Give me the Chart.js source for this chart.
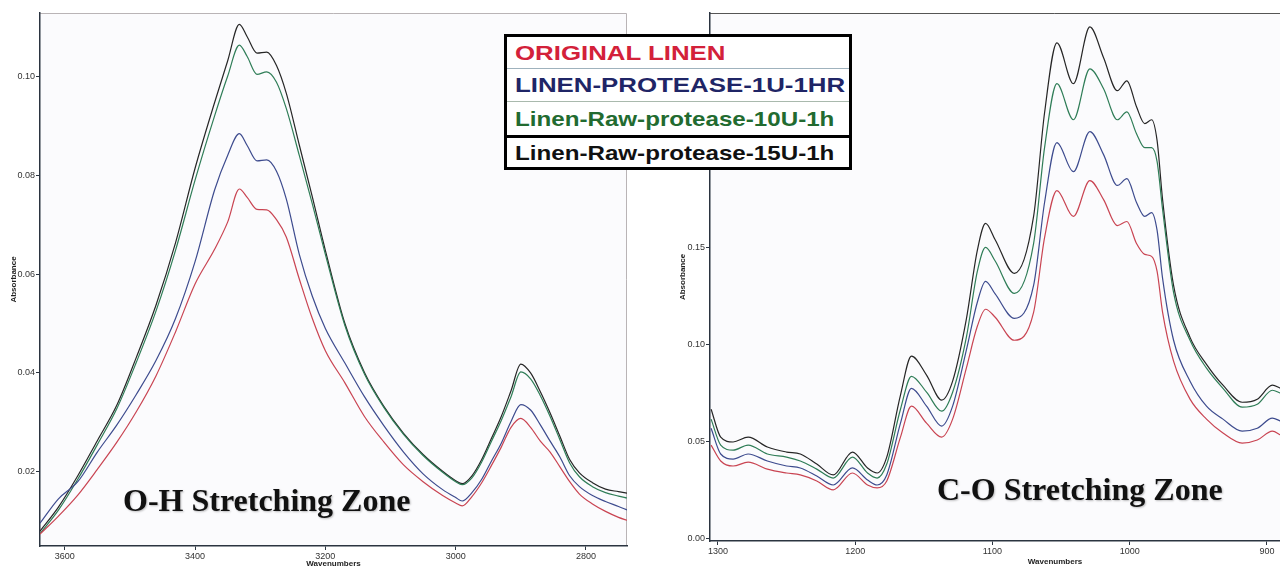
<!DOCTYPE html>
<html>
<head>
<meta charset="utf-8">
<script src="https://cdn.jsdelivr.net/npm/chart.js@4.4.0/dist/chart.umd.min.js"></script>
<style>
  html, body { margin: 0; padding: 0; background: #fff; overflow: hidden; }
  #wrap { position: relative; width: 1280px; height: 569px; overflow: hidden; }
  canvas { position: absolute; top: 0; }
  #ohChart { left: 0; }
  #coChart { left: 640px; }
  #legend {
    position: absolute; left: 504px; top: 34px; width: 342px;
    border: 3px solid #000; background: #fff;
    font: bold 21px 'Liberation Sans', Arial, sans-serif;
  }
  #legend div { padding-left: 8px; white-space: nowrap; overflow: hidden; }
  #legend span { display: inline-block; transform-origin: left center; }
  #legend .r0 { height: 31px; line-height: 31px; }
  #legend .r1 { height: 32px; line-height: 32px; border-top: 1px solid #9fb2bd; }
  #legend .r2 { height: 33px; line-height: 33px; border-top: 1px solid #a9b9ad; }
  #legend .r3 { height: 29px; line-height: 29px; border-top: 3px solid #000; }
  #legend .r0 span, #legend .r1 span { transform: scaleX(1.23); }
  #legend .r2 span, #legend .r3 span { transform: scaleX(1.15); }
</style>
</head>
<body>
<div id="wrap">
  <canvas id="ohChart" width="640" height="569"></canvas>
  <canvas id="coChart" width="760" height="569"></canvas>
  <div id="legend"></div>
</div>
<script>
// ---- data ----
const seriesLabels = ['ORIGINAL LINEN', 'LINEN-PROTEASE-1U-1HR', 'Linen-Raw-protease-10U-1h', 'Linen-Raw-protease-15U-1h'];
const lineColors = ['#c94452', '#3d4b8e', '#2f7d57', '#262626'];
const textColors = ['#d3213a', '#1f2566', '#226b30', '#111111'];

// O-H stretching zone (left)
const ohWavenumbers = [3638, 3610, 3580, 3550, 3520, 3490, 3460, 3430, 3400, 3370, 3350, 3332, 3320, 3305, 3290, 3275, 3260, 3240, 3220, 3200,
  3170, 3140, 3110, 3080, 3050, 3020, 3000, 2990, 2975, 2960, 2945, 2930, 2915, 2900, 2885, 2870, 2855, 2840, 2825, 2810, 2790, 2770, 2750, 2737];
const ohOriginal = [0.0074, 0.0110, 0.0153, 0.0205, 0.0260, 0.0322, 0.0394, 0.0483, 0.0580, 0.0650, 0.0705, 0.0772, 0.0755, 0.0731, 0.0730, 0.0710, 0.0675, 0.0590, 0.0510, 0.0445,
  0.0380, 0.0312, 0.0260, 0.0214, 0.0180, 0.0152, 0.0137, 0.0131, 0.0150, 0.0178, 0.0213, 0.0250, 0.0290, 0.0308, 0.0290, 0.0262, 0.0240, 0.0210, 0.0180, 0.0155, 0.0135, 0.0120, 0.0108, 0.0102];
const ohProtease1U = [0.0096, 0.0145, 0.0180, 0.0240, 0.0295, 0.0357, 0.0425, 0.0510, 0.0625, 0.0770, 0.0840, 0.0884, 0.0860, 0.0829, 0.0831, 0.0808, 0.0752, 0.0640, 0.0555, 0.0490,
  0.0420, 0.0352, 0.0293, 0.0240, 0.0196, 0.0164, 0.0148, 0.0141, 0.0158, 0.0185, 0.0222, 0.0258, 0.0302, 0.0336, 0.0325, 0.0295, 0.0262, 0.0230, 0.0192, 0.0170, 0.0152, 0.0140, 0.0130, 0.0123];
const ohRaw10U = [0.0075, 0.0122, 0.0185, 0.0255, 0.0328, 0.0422, 0.0525, 0.0648, 0.0790, 0.0920, 0.1000, 0.1063, 0.1040, 0.1004, 0.1009, 0.0988, 0.0935, 0.0840, 0.0742, 0.0640,
  0.0496, 0.0398, 0.0330, 0.0276, 0.0233, 0.0199, 0.0180, 0.0174, 0.0188, 0.0220, 0.0262, 0.0304, 0.0352, 0.0402, 0.0388, 0.0354, 0.0312, 0.0265, 0.0218, 0.0190, 0.0170, 0.0158, 0.0151, 0.0147];
const ohRaw15U = [0.0080, 0.0128, 0.0192, 0.0263, 0.0335, 0.0432, 0.0537, 0.0663, 0.0814, 0.0947, 0.1031, 0.1105, 0.1080, 0.1047, 0.1049, 0.1022, 0.0966, 0.0861, 0.0756, 0.0648,
  0.0500, 0.0401, 0.0332, 0.0278, 0.0235, 0.0201, 0.0182, 0.0176, 0.0192, 0.0225, 0.0268, 0.0312, 0.0364, 0.0418, 0.0400, 0.0362, 0.0319, 0.0272, 0.0225, 0.0198, 0.0178, 0.0165, 0.0160, 0.0157];
const ohXTicks = [3600, 3400, 3200, 3000, 2800];
const ohYTicks = [0.02, 0.04, 0.06, 0.08, 0.10];

// C-O stretching zone (right)
const coWavenumbers = [1305, 1298, 1289, 1278, 1264, 1250, 1240, 1228, 1216, 1202, 1191, 1184, 1177, 1167, 1159, 1148, 1137, 1129, 1119, 1111, 1105, 1098,
  1084, 1070, 1062, 1053, 1041, 1029, 1019, 1009, 1002, 995, 989, 984, 980, 976, 968, 956, 944, 932, 918, 907, 896, 890];
const coOriginal = [0.0480, 0.0398, 0.0372, 0.0392, 0.0356, 0.0336, 0.0326, 0.0295, 0.0249, 0.0336, 0.0274, 0.0259, 0.0295, 0.0521, 0.0681, 0.0593, 0.0521, 0.0614, 0.0877, 0.1093, 0.1181, 0.1140,
  0.1021, 0.1165, 0.1551, 0.1793, 0.1660, 0.1845, 0.1747, 0.1613, 0.1634, 0.1520, 0.1464, 0.1454, 0.1376, 0.1165, 0.0913, 0.0717, 0.0614, 0.0542, 0.0490, 0.0506, 0.0552, 0.0532];
const coProtease1U = [0.0567, 0.0434, 0.0408, 0.0434, 0.0398, 0.0372, 0.0362, 0.0320, 0.0274, 0.0362, 0.0300, 0.0274, 0.0326, 0.0593, 0.0773, 0.0681, 0.0578, 0.0681, 0.0970, 0.1217, 0.1325, 0.1260,
  0.1134, 0.1304, 0.1732, 0.2041, 0.1891, 0.2098, 0.1979, 0.1820, 0.1855, 0.1732, 0.1660, 0.1680, 0.1588, 0.1340, 0.1021, 0.0810, 0.0681, 0.0614, 0.0552, 0.0567, 0.0619, 0.0604];
const coRaw10U = [0.0614, 0.0480, 0.0454, 0.0480, 0.0434, 0.0418, 0.0398, 0.0356, 0.0310, 0.0418, 0.0336, 0.0310, 0.0382, 0.0665, 0.0835, 0.0753, 0.0655, 0.0753, 0.1036, 0.1376, 0.1500, 0.1430,
  0.1263, 0.1520, 0.2015, 0.2345, 0.2159, 0.2422, 0.2319, 0.2159, 0.2200, 0.2087, 0.2015, 0.2015, 0.1943, 0.1696, 0.1268, 0.1021, 0.0877, 0.0773, 0.0676, 0.0691, 0.0763, 0.0748];
const coRaw15U = [0.0665, 0.0521, 0.0496, 0.0521, 0.0470, 0.0444, 0.0434, 0.0382, 0.0326, 0.0444, 0.0362, 0.0336, 0.0418, 0.0738, 0.0939, 0.0841, 0.0712, 0.0810, 0.1130, 0.1485, 0.1624, 0.1540,
  0.1366, 0.1660, 0.2195, 0.2556, 0.2345, 0.2638, 0.2479, 0.2309, 0.2360, 0.2226, 0.2139, 0.2159, 0.2051, 0.1747, 0.1304, 0.1036, 0.0897, 0.0789, 0.0701, 0.0717, 0.0789, 0.0773];
const coXTicks = [1300, 1200, 1100, 1000, 900];
const coYTicks = [0.00, 0.05, 0.10, 0.15];

// ---- legend (shared by both panels) ----
const legendEl = document.getElementById('legend');
seriesLabels.forEach((label, i) => {
  const row = document.createElement('div');
  row.className = 'r' + i;
  const span = document.createElement('span');
  span.textContent = label;
  span.style.color = textColors[i];
  row.appendChild(span);
  legendEl.appendChild(row);
});

// frame + zone caption
const framePlugin = {
  id: 'frame',
  beforeDraw(chart, args, o) {
    const { ctx, chartArea: a } = chart;
    ctx.save();
    ctx.fillStyle = '#fbfbfd';
    ctx.fillRect(a.left, a.top, a.right - a.left, a.bottom - a.top);
    ctx.strokeStyle = o.borderColor;
    ctx.lineWidth = 1;
    ctx.beginPath();
    ctx.moveTo(a.left, a.top + 0.5);
    ctx.lineTo(a.right - 0.5, a.top + 0.5);
    ctx.lineTo(a.right - 0.5, a.bottom);
    ctx.stroke();
    ctx.restore();
  },
  afterDraw(chart, args, o) {
    const { ctx, chartArea: a } = chart;
    ctx.save();
    ctx.font = 'bold 32px "Liberation Serif", "Times New Roman", serif';
    ctx.fillStyle = '#111';
    ctx.textBaseline = 'middle';
    ctx.shadowColor = 'rgba(0,0,0,0.25)';
    ctx.shadowBlur = 2;
    ctx.shadowOffsetX = 1;
    ctx.shadowOffsetY = 1;
    ctx.fillText(o.caption, a.left + o.captionDx, o.captionY);
    ctx.restore();
  }
};

const tickFont = { family: "'Liberation Sans Narrow', 'Liberation Sans', Arial, sans-serif", size: 9 };
const titleFont = { family: "'Liberation Sans Narrow', 'Liberation Sans', Arial, sans-serif", size: 8, weight: 'bold' };

function makeSpectrum(id, wavenumbers, series, cfg) {
  const datasets = series.map((values, i) => ({
    label: seriesLabels[i],
    data: wavenumbers.map((w, j) => ({ x: w, y: values[j] })),
    borderColor: lineColors[i],
    borderWidth: 1.2,
    pointRadius: 0,
    fill: false,
    cubicInterpolationMode: 'monotone'
  }));
  return new Chart(document.getElementById(id), {
    type: 'line',
    data: { datasets },
    plugins: [framePlugin],
    options: {
      responsive: false,
      animation: false,
      devicePixelRatio: 1,
      layout: { padding: cfg.padding },
      plugins: {
        legend: { display: false },
        tooltip: { enabled: false },
        frame: { borderColor: cfg.borderColor, caption: cfg.caption, captionDx: cfg.captionDx, captionY: cfg.captionY }
      },
      scales: {
        x: {
          type: 'linear',
          reverse: true,
          min: cfg.xMin,
          max: cfg.xMax,
          afterBuildTicks: s => { s.ticks = cfg.xTicks.map(v => ({ value: v })); },
          afterFit: s => { s.height = cfg.xAxisHeight; },
          ticks: { callback: v => String(v), font: tickFont, color: '#333', padding: 1, maxRotation: 0, autoSkip: false },
          grid: { drawOnChartArea: false, drawTicks: true, tickLength: 4, color: '#2b3440' },
          border: { display: true, color: '#2b3440', width: 1.5 },
          title: { display: true, text: 'Wavenumbers', font: titleFont, color: '#222', padding: { top: 0, bottom: cfg.xTitlePad } }
        },
        y: {
          min: cfg.yMin,
          max: cfg.yMax,
          afterBuildTicks: s => { s.ticks = cfg.yTicks.map(v => ({ value: v })); },
          afterFit: s => { s.width = cfg.yAxisWidth; },
          ticks: { callback: v => v.toFixed(2), font: tickFont, color: '#333', padding: 1 },
          grid: { drawOnChartArea: false, drawTicks: true, tickLength: 4, color: '#2b3440' },
          border: { display: true, color: '#2b3440', width: 1.5 },
          title: { display: true, text: 'Absorbance', font: titleFont, color: '#222', padding: { top: cfg.yTitlePad, bottom: 0 } }
        }
      }
    }
  });
}

makeSpectrum('ohChart', ohWavenumbers, [ohOriginal, ohProtease1U, ohRaw10U, ohRaw15U], {
  xMin: 2737, xMax: 3638, yMin: 0.005, yMax: 0.1128,
  xTicks: ohXTicks, yTicks: ohYTicks,
  padding: { top: 13, right: 13, left: 0, bottom: 0 },
  xAxisHeight: 23, yAxisWidth: 40, xTitlePad: 0, yTitlePad: 9,
  borderColor: '#b9b4b6',
  caption: 'O-H Stretching Zone', captionDx: 83, captionY: 503
});

makeSpectrum('coChart', coWavenumbers, [coOriginal, coProtease1U, coRaw10U, coRaw15U], {
  xMin: 803, xMax: 1305.8, yMin: -0.0015, yMax: 0.271,
  xTicks: coXTicks, yTicks: coYTicks,
  padding: { top: 13, right: 0, left: 0, bottom: 0 },
  xAxisHeight: 28, yAxisWidth: 70, xTitlePad: 2, yTitlePad: 38,
  borderColor: '#555',
  caption: 'C-O Stretching Zone', captionDx: 227, captionY: 492
});
</script>
</body>
</html>
